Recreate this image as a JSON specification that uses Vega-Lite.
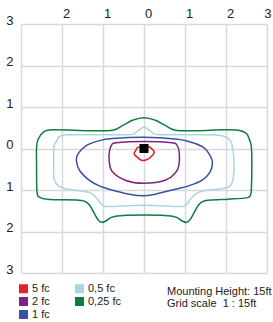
{
  "$schema": "https://vega.github.io/schema/vega-lite/v6.json",
  "width": 246,
  "height": 249,
  "autosize": {"type": "none"},
  "padding": {"left": 21, "top": 24, "right": 6, "bottom": 49},
  "background": "white",
  "config": {
    "view": {"stroke": null},
    "font": "Liberation Sans",
    "axis": {
      "domain": false,
      "ticks": false,
      "tickSize": 0,
      "grid": true,
      "gridColor": "#d9d9d9",
      "gridWidth": 1.5,
      "labelFont": "Liberation Sans",
      "labelFontSize": 13,
      "labelColor": "#222222",
      "labelFlush": false,
      "labelOverlap": false,
      "title": null
    }
  },
  "title": {
    "text": ["Mounting Height: 15ft", "Grid scale\u00a0 1 : 15ft"],
    "orient": "bottom",
    "anchor": "start",
    "frame": "group",
    "align": "left",
    "dx": 146,
    "offset": -34,
    "fontSize": 11,
    "fontWeight": "normal",
    "font": "Liberation Sans",
    "color": "#222222",
    "lineHeight": 12
  },
  "datasets": {
    "contours": [
      {"s": "0,25 fc", "i": 0, "x": 0, "y": -0.74},
      {"s": "0,25 fc", "i": 1, "x": 0.28, "y": -0.68},
      {"s": "0,25 fc", "i": 2, "x": 0.53, "y": -0.55},
      {"s": "0,25 fc", "i": 3, "x": 0.77, "y": -0.44},
      {"s": "0,25 fc", "i": 4, "x": 1.3, "y": -0.43},
      {"s": "0,25 fc", "i": 5, "x": 1.9, "y": -0.45},
      {"s": "0,25 fc", "i": 6, "x": 2.3, "y": -0.44},
      {"s": "0,25 fc", "i": 7, "x": 2.5, "y": -0.36},
      {"s": "0,25 fc", "i": 8, "x": 2.58, "y": -0.19},
      {"s": "0,25 fc", "i": 9, "x": 2.62, "y": -0.03},
      {"s": "0,25 fc", "i": 10, "x": 2.63, "y": 0.45},
      {"s": "0,25 fc", "i": 11, "x": 2.62, "y": 0.94},
      {"s": "0,25 fc", "i": 12, "x": 2.6, "y": 1.12},
      {"s": "0,25 fc", "i": 13, "x": 2.5, "y": 1.19},
      {"s": "0,25 fc", "i": 14, "x": 2.06, "y": 1.22},
      {"s": "0,25 fc", "i": 15, "x": 1.65, "y": 1.24},
      {"s": "0,25 fc", "i": 16, "x": 1.45, "y": 1.27},
      {"s": "0,25 fc", "i": 17, "x": 1.33, "y": 1.36},
      {"s": "0,25 fc", "i": 18, "x": 1.22, "y": 1.55},
      {"s": "0,25 fc", "i": 19, "x": 1.12, "y": 1.72},
      {"s": "0,25 fc", "i": 20, "x": 1.03, "y": 1.78},
      {"s": "0,25 fc", "i": 21, "x": 0.92, "y": 1.74},
      {"s": "0,25 fc", "i": 22, "x": 0.7, "y": 1.63},
      {"s": "0,25 fc", "i": 23, "x": 0, "y": 1.6},
      {"s": "0,25 fc", "i": 24, "x": -0.7, "y": 1.63},
      {"s": "0,25 fc", "i": 25, "x": -0.92, "y": 1.74},
      {"s": "0,25 fc", "i": 26, "x": -1.03, "y": 1.78},
      {"s": "0,25 fc", "i": 27, "x": -1.12, "y": 1.72},
      {"s": "0,25 fc", "i": 28, "x": -1.22, "y": 1.55},
      {"s": "0,25 fc", "i": 29, "x": -1.33, "y": 1.36},
      {"s": "0,25 fc", "i": 30, "x": -1.45, "y": 1.27},
      {"s": "0,25 fc", "i": 31, "x": -1.65, "y": 1.24},
      {"s": "0,25 fc", "i": 32, "x": -2.3, "y": 1.23},
      {"s": "0,25 fc", "i": 33, "x": -2.54, "y": 1.18},
      {"s": "0,25 fc", "i": 34, "x": -2.61, "y": 1.04},
      {"s": "0,25 fc", "i": 35, "x": -2.62, "y": 0.45},
      {"s": "0,25 fc", "i": 36, "x": -2.62, "y": -0.03},
      {"s": "0,25 fc", "i": 37, "x": -2.58, "y": -0.23},
      {"s": "0,25 fc", "i": 38, "x": -2.46, "y": -0.39},
      {"s": "0,25 fc", "i": 39, "x": -2.22, "y": -0.45},
      {"s": "0,25 fc", "i": 40, "x": -1.33, "y": -0.43},
      {"s": "0,25 fc", "i": 41, "x": -0.77, "y": -0.44},
      {"s": "0,25 fc", "i": 42, "x": -0.53, "y": -0.55},
      {"s": "0,25 fc", "i": 43, "x": -0.28, "y": -0.68},

      {"s": "0,5 fc", "i": 0, "x": 0, "y": -0.52},
      {"s": "0,5 fc", "i": 1, "x": 0.13, "y": -0.44},
      {"s": "0,5 fc", "i": 2, "x": 0.28, "y": -0.34},
      {"s": "0,5 fc", "i": 3, "x": 0.6, "y": -0.33},
      {"s": "0,5 fc", "i": 4, "x": 1.33, "y": -0.33},
      {"s": "0,5 fc", "i": 5, "x": 1.89, "y": -0.31},
      {"s": "0,5 fc", "i": 6, "x": 2.06, "y": -0.23},
      {"s": "0,5 fc", "i": 7, "x": 2.14, "y": -0.11},
      {"s": "0,5 fc", "i": 8, "x": 2.19, "y": 0.21},
      {"s": "0,5 fc", "i": 9, "x": 2.18, "y": 0.69},
      {"s": "0,5 fc", "i": 10, "x": 2.1, "y": 0.9},
      {"s": "0,5 fc", "i": 11, "x": 1.89, "y": 0.97},
      {"s": "0,5 fc", "i": 12, "x": 1.49, "y": 1.01},
      {"s": "0,5 fc", "i": 13, "x": 1.3, "y": 1.07},
      {"s": "0,5 fc", "i": 14, "x": 1.15, "y": 1.2},
      {"s": "0,5 fc", "i": 15, "x": 1.02, "y": 1.36},
      {"s": "0,5 fc", "i": 16, "x": 0.85, "y": 1.4},
      {"s": "0,5 fc", "i": 17, "x": 0, "y": 1.37},
      {"s": "0,5 fc", "i": 18, "x": -0.85, "y": 1.4},
      {"s": "0,5 fc", "i": 19, "x": -1.02, "y": 1.36},
      {"s": "0,5 fc", "i": 20, "x": -1.15, "y": 1.2},
      {"s": "0,5 fc", "i": 21, "x": -1.3, "y": 1.07},
      {"s": "0,5 fc", "i": 22, "x": -1.57, "y": 1.02},
      {"s": "0,5 fc", "i": 23, "x": -1.98, "y": 0.95},
      {"s": "0,5 fc", "i": 24, "x": -2.14, "y": 0.85},
      {"s": "0,5 fc", "i": 25, "x": -2.2, "y": 0.69},
      {"s": "0,5 fc", "i": 26, "x": -2.2, "y": 0.3},
      {"s": "0,5 fc", "i": 27, "x": -2.2, "y": -0.03},
      {"s": "0,5 fc", "i": 28, "x": -2.15, "y": -0.15},
      {"s": "0,5 fc", "i": 29, "x": -2.06, "y": -0.29},
      {"s": "0,5 fc", "i": 30, "x": -1.91, "y": -0.33},
      {"s": "0,5 fc", "i": 31, "x": -1.33, "y": -0.33},
      {"s": "0,5 fc", "i": 32, "x": -0.6, "y": -0.33},
      {"s": "0,5 fc", "i": 33, "x": -0.28, "y": -0.34},
      {"s": "0,5 fc", "i": 34, "x": -0.13, "y": -0.44},

      {"s": "1 fc", "i": 0, "x": 0, "y": -0.27},
      {"s": "1 fc", "i": 1, "x": 0.77, "y": -0.23},
      {"s": "1 fc", "i": 2, "x": 1.09, "y": -0.17},
      {"s": "1 fc", "i": 3, "x": 1.45, "y": -0.03},
      {"s": "1 fc", "i": 4, "x": 1.61, "y": 0.17},
      {"s": "1 fc", "i": 5, "x": 1.67, "y": 0.33},
      {"s": "1 fc", "i": 6, "x": 1.61, "y": 0.57},
      {"s": "1 fc", "i": 7, "x": 1.41, "y": 0.77},
      {"s": "1 fc", "i": 8, "x": 1.09, "y": 0.9},
      {"s": "1 fc", "i": 9, "x": 0.77, "y": 0.98},
      {"s": "1 fc", "i": 10, "x": 0.28, "y": 1.1},
      {"s": "1 fc", "i": 11, "x": 0, "y": 1.14},
      {"s": "1 fc", "i": 12, "x": -0.36, "y": 1.1},
      {"s": "1 fc", "i": 13, "x": -0.85, "y": 0.98},
      {"s": "1 fc", "i": 14, "x": -1.09, "y": 0.9},
      {"s": "1 fc", "i": 15, "x": -1.33, "y": 0.77},
      {"s": "1 fc", "i": 16, "x": -1.57, "y": 0.53},
      {"s": "1 fc", "i": 17, "x": -1.65, "y": 0.29},
      {"s": "1 fc", "i": 18, "x": -1.61, "y": 0.13},
      {"s": "1 fc", "i": 19, "x": -1.41, "y": -0.07},
      {"s": "1 fc", "i": 20, "x": -1.09, "y": -0.19},
      {"s": "1 fc", "i": 21, "x": -0.77, "y": -0.24},

      {"s": "2 fc", "i": 0, "x": 0, "y": -0.17},
      {"s": "2 fc", "i": 1, "x": 0.68, "y": -0.14},
      {"s": "2 fc", "i": 2, "x": 0.81, "y": -0.07},
      {"s": "2 fc", "i": 3, "x": 0.86, "y": 0.1},
      {"s": "2 fc", "i": 4, "x": 0.85, "y": 0.41},
      {"s": "2 fc", "i": 5, "x": 0.77, "y": 0.58},
      {"s": "2 fc", "i": 6, "x": 0.53, "y": 0.76},
      {"s": "2 fc", "i": 7, "x": 0, "y": 0.84},
      {"s": "2 fc", "i": 8, "x": -0.44, "y": 0.77},
      {"s": "2 fc", "i": 9, "x": -0.77, "y": 0.56},
      {"s": "2 fc", "i": 10, "x": -0.85, "y": 0.29},
      {"s": "2 fc", "i": 11, "x": -0.84, "y": 0.05},
      {"s": "2 fc", "i": 12, "x": -0.79, "y": -0.08},
      {"s": "2 fc", "i": 13, "x": -0.68, "y": -0.14},

      {"s": "5 fc", "i": 0, "x": 0, "y": -0.05},
      {"s": "5 fc", "i": 1, "x": 0.08, "y": -0.05},
      {"s": "5 fc", "i": 2, "x": 0.16, "y": -0.02},
      {"s": "5 fc", "i": 3, "x": 0.25, "y": 0.09},
      {"s": "5 fc", "i": 4, "x": 0.16, "y": 0.21},
      {"s": "5 fc", "i": 5, "x": 0.06, "y": 0.27},
      {"s": "5 fc", "i": 6, "x": -0.04, "y": 0.29},
      {"s": "5 fc", "i": 7, "x": -0.12, "y": 0.25},
      {"s": "5 fc", "i": 8, "x": -0.24, "y": 0.13},
      {"s": "5 fc", "i": 9, "x": -0.2, "y": 0.05},
      {"s": "5 fc", "i": 10, "x": -0.16, "y": -0.02},
      {"s": "5 fc", "i": 11, "x": -0.07, "y": -0.05}
    ],
    "luminaire": [{"x": 0, "y": 0}]
  },
  "layer": [
    {
      "data": {"name": "contours"},
      "mark": {"type": "line", "interpolate": "cardinal-closed", "strokeWidth": 1.5},
      "encoding": {
        "x": {
          "field": "x",
          "type": "quantitative",
          "scale": {"domain": [-3, 3], "nice": false, "zero": false},
          "axis": {
            "orient": "top",
            "values": [-3, -2, -1, 0, 1, 2, 3],
            "labelExpr": "datum.value == -3 ? '' : format(abs(datum.value), 'd')",
            "labelAlign": {"condition": {"test": "datum.value == 3", "value": "right"}, "value": "left"},
            "labelOffset": {"condition": {"test": "datum.value == 3", "value": 4}, "value": 0.5},
            "labelBaseline": "middle",
            "labelPadding": 11
          }
        },
        "y": {
          "field": "y",
          "type": "quantitative",
          "scale": {"domain": [-3, 3], "nice": false, "zero": false, "reverse": true},
          "axis": {
            "orient": "left",
            "values": [-3, -2, -1, 0, 1, 2, 3],
            "labelExpr": "format(abs(datum.value), 'd')",
            "labelAlign": "right",
            "labelBaseline": "middle",
            "labelOffset": -4,
            "labelPadding": 8
          }
        },
        "color": {
          "field": "s",
          "type": "nominal",
          "scale": {
            "domain": ["5 fc", "2 fc", "1 fc", "0,5 fc", "0,25 fc"],
            "range": ["#e4212b", "#7b2481", "#3a51a2", "#a8d5e2", "#0e7d3f"]
          },
          "legend": {
            "title": null,
            "orient": "none",
            "legendX": -3,
            "legendY": 259,
            "columns": 2,
            "columnPadding": 24,
            "rowPadding": 1,
            "padding": 0,
            "symbolType": "square",
            "symbolSize": 81,
            "symbolStrokeWidth": 0,
            "labelFontSize": 11,
            "labelFont": "Liberation Sans",
            "labelColor": "#222222",
            "labelOffset": 3,
            "encode": {
              "symbols": {
                "update": {
                  "fill": {"scale": "color", "field": "value"},
                  "fillOpacity": {"value": 1},
                  "strokeWidth": {"value": 0}
                }
              }
            }
          }
        },
        "order": {"field": "i", "type": "quantitative"}
      }
    },
    {
      "data": {"name": "luminaire"},
      "mark": {"type": "point", "shape": "square", "filled": true, "size": 81, "color": "black", "opacity": 1},
      "encoding": {
        "x": {"field": "x", "type": "quantitative"},
        "y": {"field": "y", "type": "quantitative"}
      }
    }
  ]
}
